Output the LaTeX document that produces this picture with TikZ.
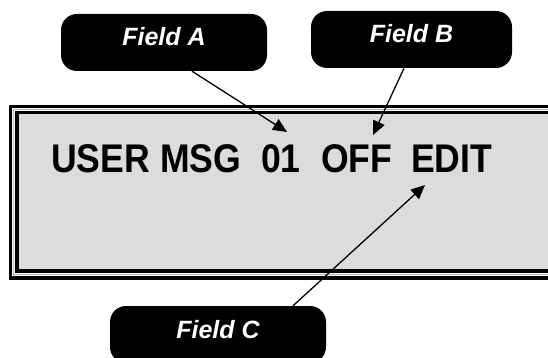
\documentclass[tikz,border=0pt]{standalone}
\usepackage{fontspec}
\setsansfont{Liberation Sans}
\usepackage{graphicx}
\usetikzlibrary{arrows.meta,positioning}
\definecolor{PanelGray}{HTML}{DCDCDC}
\definecolor{GapGray}{HTML}{B8B8B8}

\begin{document}
\begin{tikzpicture}[
  x=1pt,y=-1pt,
  callout/.style={rectangle,rounded corners=16pt,fill=black,text=white,inner sep=0pt,
                  text height=32pt,text depth=25pt,
                  font=\fontsize{25}{25}\selectfont\sffamily\bfseries\itshape},
  word/.style={anchor=base west,inner sep=0pt,
               font=\fontsize{40}{40}\selectfont\sffamily\bfseries},
  ptr/.style={-{Triangle[length=14pt,width=12.5pt]},line width=1.3pt},
  frame/.style={draw=black,line width=3.2pt}
]
\useasboundingbox (0,0) rectangle (548,358);

%% Display panel
\draw[frame,fill=white] (10.5,106.5) rectangle (570,278);
\draw[GapGray,line width=0.8pt] (13.8,109.6) rectangle (570,274.6);
\draw[frame,fill=PanelGray] (17,112.5) rectangle (570,271);

%% Display text
\node[word] (usr)  at (51,172)  {\scalebox{0.89}[1]{USER}};
\node[word] (msg)  at (160,172) {\scalebox{0.89}[1]{MSG}};
\node[word] (num)  at (261,172) {\scalebox{0.89}[1]{01}};
\node[word] (off)  at (321,172) {\scalebox{0.89}[1]{OFF}};
\node[word] (edit) at (411,172) {\scalebox{0.89}[1]{EDIT}};

%% Callouts
\node[callout,minimum width=206pt,anchor=base] (fa) at (164,46)  {Field A};
\node[callout,minimum width=201pt,anchor=base] (fb) at (411.5,43) {Field B};
\node[callout,minimum width=216pt,anchor=base] (fc) at (218,338) {Field C};

%% Pointers
\coordinate (tipA) at (287,132);
\coordinate (tipB) at (373,135);
\coordinate (tipC) at (425,185);
\draw[ptr] ([xshift=28pt]fa.south) -- (tipA);
\draw[ptr] ([xshift=-7.5pt]fb.south) -- (tipB);
\draw[ptr] ([xshift=75pt]fc.north) -- (tipC);

\end{tikzpicture}
\end{document}
